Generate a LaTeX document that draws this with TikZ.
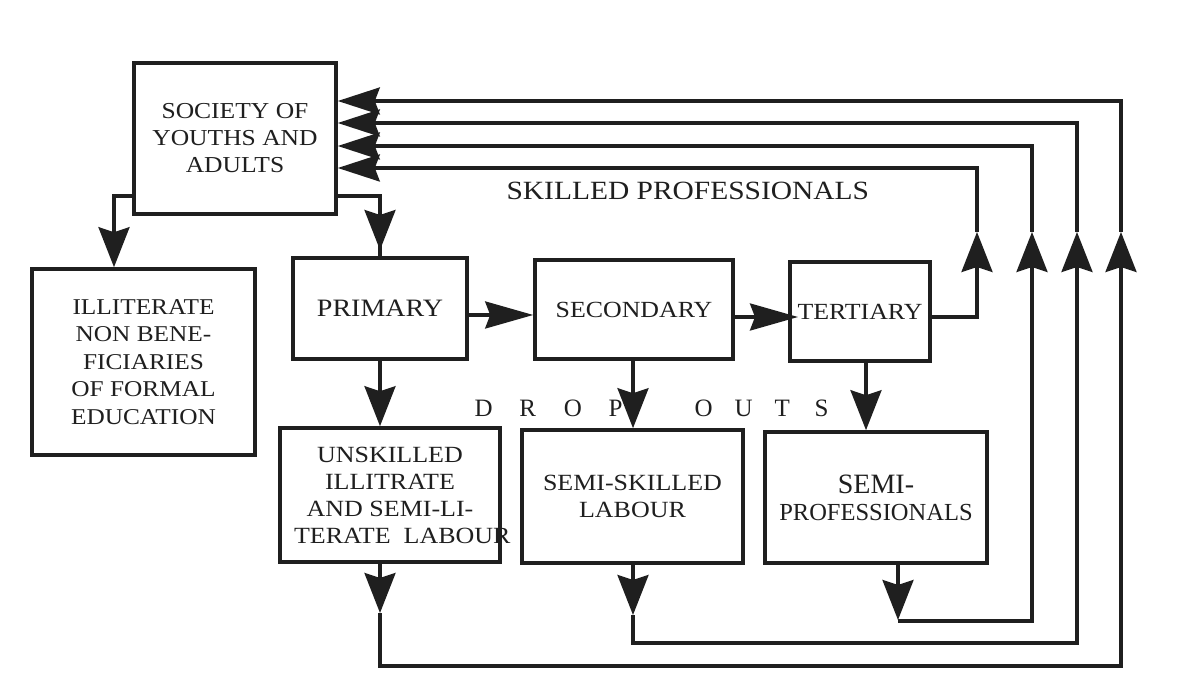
\documentclass[tikz,border=0pt]{standalone}
\usepackage{fontspec}
\setmainfont{Liberation Serif}
\newfontfamily\widefont[FakeStretch=1.12]{Liberation Serif}
\usetikzlibrary{arrows.meta}
\begin{document}
\begin{tikzpicture}[x=1pt,y=-1pt,line width=3.2pt,color=black!88,
  box/.style={draw,line width=3.6pt,inner sep=0pt,align=center,rectangle},
  vtip/.style={-{Stealth[length=40pt,width=31pt,inset=5pt]}},
  htip/.style={-{Stealth[length=48pt,width=27pt,inset=5pt]}},
  stip/.style={-{Stealth[length=42pt,width=27pt,inset=5pt]}},
  lbl/.style={inner sep=0pt,anchor=base west}]
\useasboundingbox[fill=white] (0,0) rectangle (1184,692);

% boxes
\node[box,minimum width=202pt,minimum height=151pt,font=\widefont\fontsize{22.8}{27}\selectfont] (soc) at (235,138.5) {SOCIETY OF\\YOUTHS AND\\ADULTS};
\node[box,minimum width=223pt,minimum height=186pt,font=\widefont\fontsize{22.6}{27.5}\selectfont] (ill) at (143.5,362) {ILLITERATE\\NON BENE-\\FICIARIES\\OF FORMAL\\EDUCATION};
\node[box,minimum width=174pt,minimum height=101pt,font=\widefont\fontsize{25}{28}\selectfont] (prim) at (380,308.5) {PRIMARY};
\node[box,minimum width=198pt,minimum height=99pt,font=\widefont\fontsize{23.1}{28}\selectfont] (sec) at (634,309.5) {SECONDARY};
\node[box,minimum width=140pt,minimum height=99pt,font=\widefont\fontsize{23.1}{28}\selectfont] (tert) at (860,311.5) {TERTIARY};
\node[box,minimum width=220pt,minimum height=134pt,font=\widefont\fontsize{23.2}{27}\selectfont] (unsk) at (390,495) {UNSKILLED\\ILLITRATE\\AND SEMI-LI-\\\makebox[192pt][l]{TERATE\ \ LABOUR}};
\node[box,minimum width=221pt,minimum height=133pt,font=\widefont\fontsize{23.2}{27}\selectfont] (semi) at (632.5,496.5) {SEMI-SKILLED\\LABOUR};
\node[box,minimum width=222pt,minimum height=131pt,font=\fontsize{24.5}{27}\selectfont] (spro) at (876,497.5) {{\fontsize{28}{27}\selectfont SEMI-}\\PROFESSIONALS};

% labels
\node[lbl,font=\widefont\fontsize{26.3}{30}\selectfont] (skp) at (505,200) {SKILLED PROFESSIONALS};
\node[lbl,font=\fontsize{25}{30}\selectfont] (drop) at (473,417) {\makebox[44.7pt][l]{D}\makebox[44.7pt][l]{R}\makebox[44.7pt][l]{O}P};
\node[lbl,font=\fontsize{25}{30}\selectfont] (outs) at (693,417) {\makebox[40pt][l]{O}\makebox[40pt][l]{U}\makebox[40pt][l]{T}S};

% society -> illiterate
\coordinate (sb1) at (114,196);
\draw[vtip] (soc.west |- sb1) -- (sb1) -- (sb1 |- ill.north);
% society -> primary
\coordinate (sb2) at (380,196);
\coordinate (pt) at (380,250);
\draw (soc.east |- sb2) -- (sb2) -- (sb2 |- prim.north);
\draw[vtip] (sb2) -- (pt);

% primary -> secondary -> tertiary
\coordinate (ps) at (467,315);
\draw[htip] (prim.east |- ps) -- (sec.west |- ps);
\coordinate (st) at (798,317);
\draw[htip] (sec.east |- st) -- (st);

% drop outs
\coordinate (d1) at (380,0);
\coordinate (d2) at (633,0);
\coordinate (d3) at (866,0);
\draw[vtip] (prim.south -| d1) -- (unsk.north -| d1);
\draw[vtip] (sec.south -| d2) -- (semi.north -| d2);
\draw[vtip] (tert.south -| d3) -- (spro.north -| d3);

% tertiary loop
\coordinate (r1) at (977,317);
\coordinate (r1t) at (977,232);
\coordinate (r1u) at (977,168);
\draw[vtip] (tert.east |- r1) -- (r1) -- (r1t);
\draw[stip] (r1t) -- (r1u) -- (soc.east |- r1u);

% semi-professionals loop
\coordinate (a3) at (898,620);
\coordinate (b3) at (1032,621);
\coordinate (b3t) at (1032,232);
\coordinate (b3u) at (1032,146);
\draw[vtip] (spro.south -| a3) -- (a3);
\draw[vtip] (898,621) -- (b3) -- (b3t);
\draw[stip] (b3t) -- (b3u) -- (soc.east |- b3u);

% semi-skilled loop
\coordinate (a2) at (633,615);
\coordinate (m2) at (633,643);
\coordinate (b2) at (1077,643);
\coordinate (b2t) at (1077,232);
\coordinate (b2u) at (1077,123);
\draw[vtip] (semi.south -| a2) -- (a2);
\draw[vtip] (a2) -- (m2) -- (b2) -- (b2t);
\draw[stip] (b2t) -- (b2u) -- (soc.east |- b2u);

% unskilled loop
\coordinate (a1) at (380,613);
\coordinate (m1) at (380,666);
\coordinate (b1) at (1121,666);
\coordinate (b1t) at (1121,232);
\coordinate (b1u) at (1121,101);
\draw[vtip] (unsk.south -| a1) -- (a1);
\draw[vtip] (a1) -- (m1) -- (b1) -- (b1t);
\draw[stip] (b1t) -- (b1u) -- (soc.east |- b1u);
\end{tikzpicture}
\end{document}
